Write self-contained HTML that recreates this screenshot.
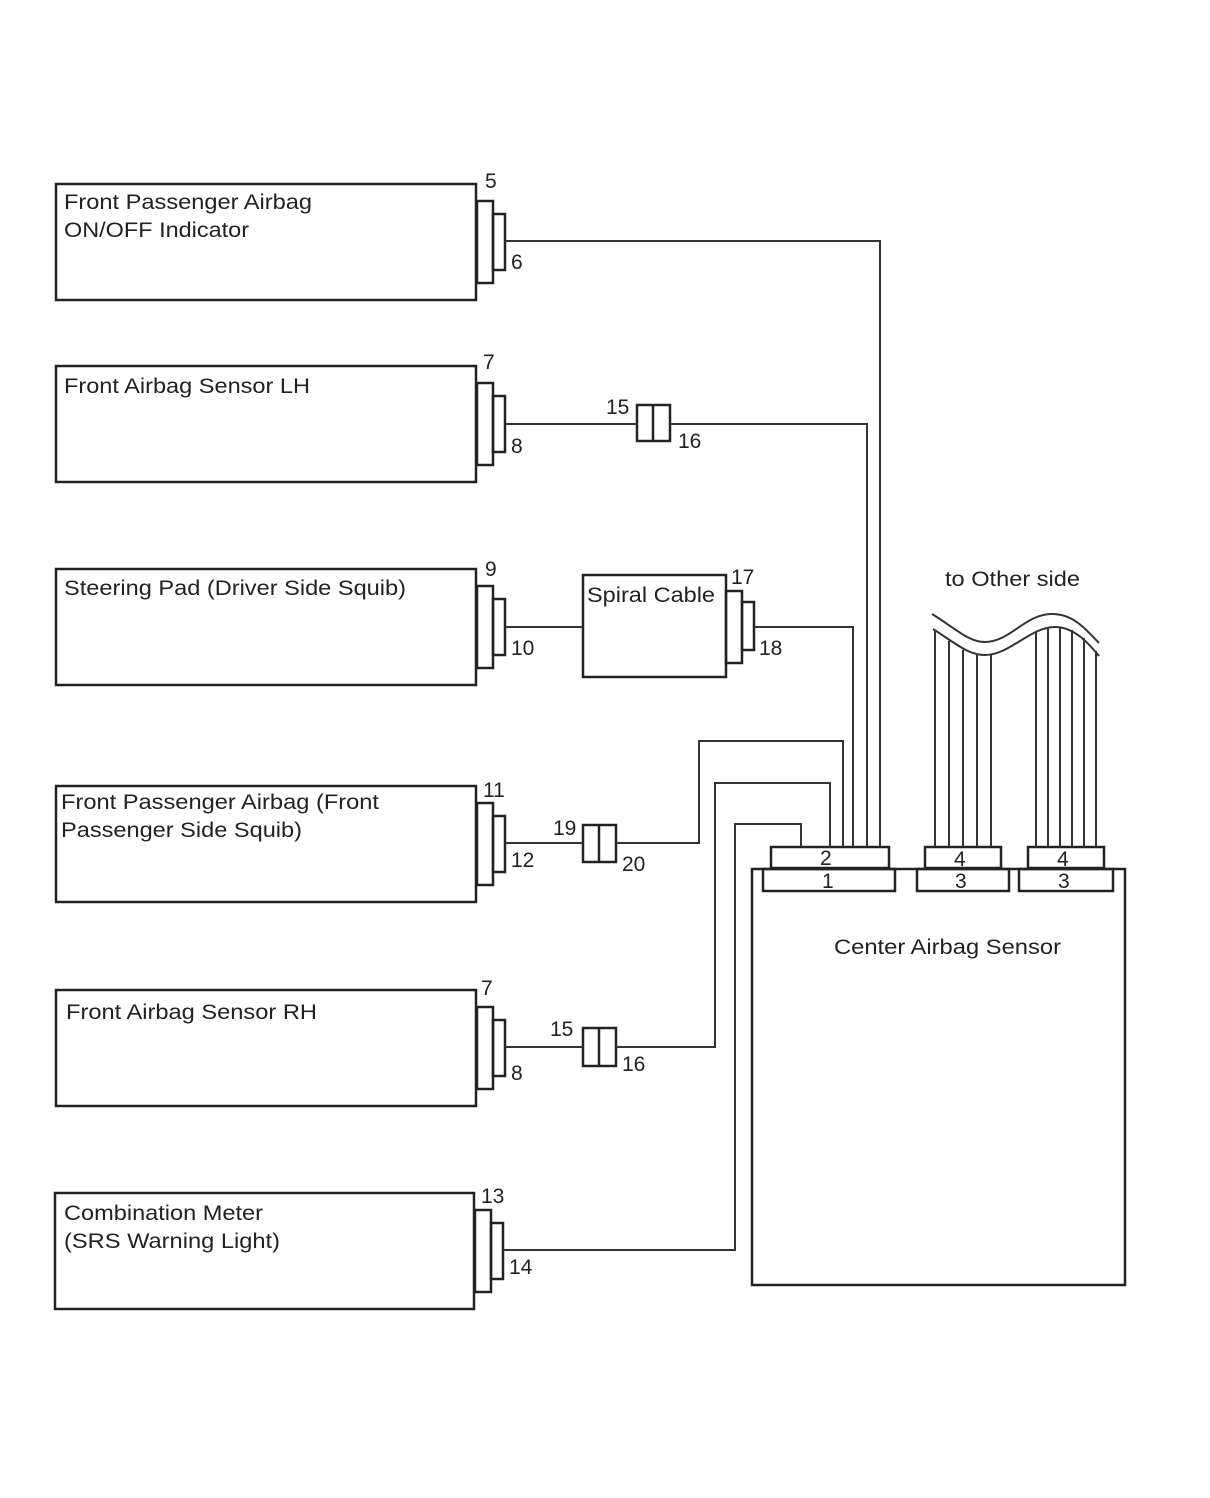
<!DOCTYPE html>
<html><head><meta charset="utf-8"><style>
html,body{margin:0;padding:0;background:#fff;}
svg{display:block;}
text{font-family:"Liberation Sans",Arial,sans-serif;font-size:21px;fill:#222;}
</style></head><body>
<svg width="1210" height="1498" viewBox="0 0 1210 1498" xmlns="http://www.w3.org/2000/svg">
<g fill="none" stroke="#222" stroke-width="2.5">
<rect x="56" y="184" width="420" height="116"/>
<rect x="56" y="366" width="420" height="116"/>
<rect x="56" y="569" width="420" height="116"/>
<rect x="56" y="786" width="420" height="116"/>
<rect x="56" y="990" width="420" height="116"/>
<rect x="55" y="1193" width="419" height="116"/>
<g>
<rect x="477" y="201" width="16" height="82"/><rect x="493" y="214" width="12" height="56"/>
<rect x="477" y="383" width="16" height="82"/><rect x="493" y="396" width="12" height="56"/>
<rect x="477" y="586" width="16" height="82"/><rect x="493" y="599" width="12" height="56"/>
<rect x="477" y="803" width="16" height="82"/><rect x="493" y="816" width="12" height="56"/>
<rect x="477" y="1007" width="16" height="82"/><rect x="493" y="1020" width="12" height="56"/>
<rect x="475" y="1210" width="16" height="82"/><rect x="491" y="1223" width="12" height="56"/>
</g>
<rect x="583" y="575" width="143" height="102"/>
<rect x="726" y="591" width="16" height="72"/><rect x="742" y="602" width="12" height="48"/>
<rect x="637" y="405" width="33" height="36"/><line x1="653" y1="405" x2="653" y2="441"/>
<rect x="583" y="825" width="33" height="37"/><line x1="599" y1="825" x2="599" y2="862"/>
<rect x="583" y="1028" width="33" height="38"/><line x1="599" y1="1028" x2="599" y2="1066"/>
<rect x="752" y="869" width="373" height="416"/>
<rect x="771" y="847" width="118" height="21"/>
<rect x="763" y="869" width="132" height="22"/>
<rect x="925" y="847" width="76" height="21"/>
<rect x="917" y="869" width="92" height="22"/>
<rect x="1028" y="847" width="76" height="21"/>
<rect x="1019" y="869" width="94" height="22"/>
</g>
<g fill="none" stroke="#333" stroke-width="2">
<polyline points="505,241 880,241 880,847"/>
<polyline points="505,424 637,424"/>
<polyline points="670,424 867,424 867,847"/>
<polyline points="505,627 583,627"/>
<polyline points="754,627 853,627 853,847"/>
<polyline points="505,843 583,843"/>
<polyline points="616,843 699,843 699,741 843,741 843,847"/>
<polyline points="505,1047 583,1047"/>
<polyline points="616,1047 715,1047 715,783 830,783 830,847"/>
<polyline points="503,1250 735,1250 735,824 801,824 801,847"/>
<path d="M932,614 C955,628 968,642 985,642 C1010,642 1025,614 1052,614 C1075,614 1088,632 1099,643"/>
<path d="M933,629 C955,643 968,655 985,655 C1010,655 1030,627 1055,627 C1075,627 1090,645 1099,656"/>
<line x1="935" y1="630" x2="935" y2="847"/>
<line x1="949" y1="641" x2="949" y2="847"/>
<line x1="963" y1="650" x2="963" y2="847"/>
<line x1="977" y1="655" x2="977" y2="847"/>
<line x1="991" y1="655" x2="991" y2="847"/>
<line x1="1036" y1="632" x2="1036" y2="847"/>
<line x1="1048" y1="628" x2="1048" y2="847"/>
<line x1="1060" y1="627" x2="1060" y2="847"/>
<line x1="1072" y1="630" x2="1072" y2="847"/>
<line x1="1084" y1="638" x2="1084" y2="847"/>
<line x1="1096" y1="651" x2="1096" y2="847"/>
</g>
<g lengthAdjust="spacingAndGlyphs">
<text x="64" y="209" textLength="248" lengthAdjust="spacingAndGlyphs">Front Passenger Airbag</text>
<text x="64" y="237" textLength="185" lengthAdjust="spacingAndGlyphs">ON/OFF Indicator</text>
<text x="64" y="393" textLength="246" lengthAdjust="spacingAndGlyphs">Front Airbag Sensor LH</text>
<text x="64" y="595" textLength="342" lengthAdjust="spacingAndGlyphs">Steering Pad (Driver Side Squib)</text>
<text x="61" y="809" textLength="318" lengthAdjust="spacingAndGlyphs">Front Passenger Airbag (Front</text>
<text x="61" y="837" textLength="241" lengthAdjust="spacingAndGlyphs">Passenger Side Squib)</text>
<text x="66" y="1019" textLength="251" lengthAdjust="spacingAndGlyphs">Front Airbag Sensor RH</text>
<text x="64" y="1220" textLength="199" lengthAdjust="spacingAndGlyphs">Combination Meter</text>
<text x="64" y="1248" textLength="216" lengthAdjust="spacingAndGlyphs">(SRS Warning Light)</text>
<text x="587" y="602" textLength="128" lengthAdjust="spacingAndGlyphs">Spiral Cable</text>
<text x="834" y="954" textLength="227" lengthAdjust="spacingAndGlyphs">Center Airbag Sensor</text>
<text x="945" y="586" textLength="135" lengthAdjust="spacingAndGlyphs">to Other side</text>
</g>
<text x="485" y="188">5</text><text x="511" y="269">6</text>
<text x="483" y="369">7</text><text x="511" y="453">8</text>
<text x="606" y="414">15</text><text x="678" y="448">16</text>
<text x="485" y="576">9</text><text x="511" y="655">10</text>
<text x="731" y="584">17</text><text x="759" y="655">18</text>
<text x="483" y="797">11</text><text x="511" y="867">12</text>
<text x="553" y="835">19</text><text x="622" y="871">20</text>
<text x="481" y="995">7</text><text x="511" y="1080">8</text>
<text x="550" y="1036">15</text><text x="622" y="1071">16</text>
<text x="481" y="1203">13</text><text x="509" y="1274">14</text>
<text x="820" y="865">2</text><text x="822" y="888">1</text>
<text x="954" y="866">4</text><text x="955" y="888">3</text>
<text x="1057" y="866">4</text><text x="1058" y="888">3</text>
</svg>
</body></html>
